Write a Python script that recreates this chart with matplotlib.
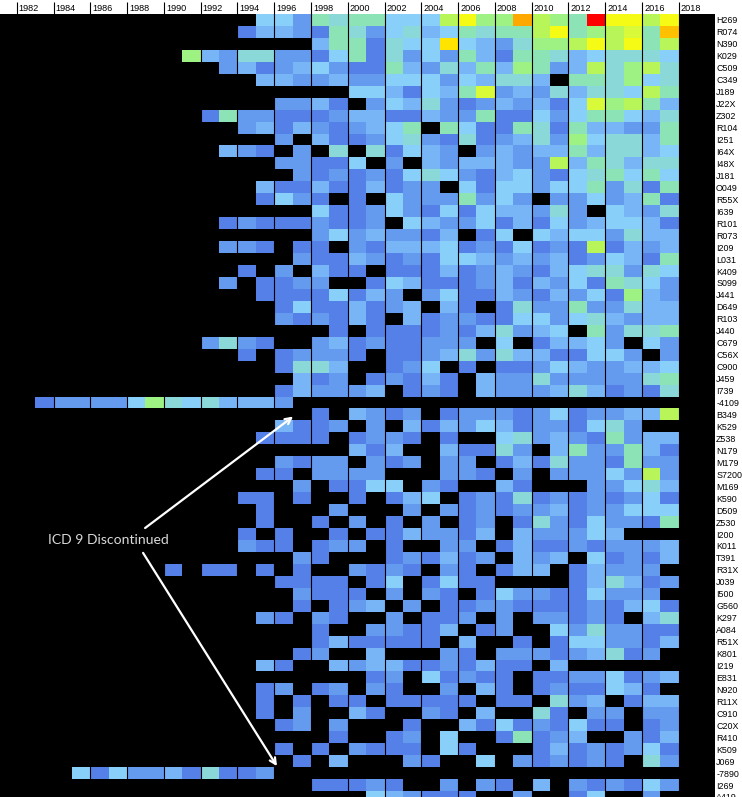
import numpy as np
import matplotlib
matplotlib.use("Agg")
import matplotlib.pyplot as plt
from matplotlib.colors import ListedColormap
from matplotlib.transforms import ScaledTranslation

FIRST_YEAR = 1982
LAST_YEAR = 2018

row_labels = [
    "H269", "R074", "N390", "K029", "C509", "C349", "J189", "J22X", "Z302", "R104", "I251",
    "I64X", "I48X", "J181", "O049", "R55X", "I639", "R101", "R073", "I209", "L031", "K409",
    "S099", "J441", "D649", "R103", "J440", "C679", "C56X", "C900", "J459", "I739", "-4109",
    "B349", "K529", "Z538", "N179", "M179", "S7200", "M169", "K590", "D509", "Z530", "I200",
    "K011", "T391", "R31X", "J039", "I500", "G560", "K297", "A084", "R51X", "K801", "I219",
    "E831", "N920", "R11X", "C910", "C20X", "R410", "K509", "J069", "-7890", "I269", "A419",
]

# one char per year 1982-2017, hex colour level, "." = no data
# groups: 1982-93, 1994-99, 2000-05, 2006-11, 2012-17
levels_top = [
    "............ .44265 664448 a77d87 6eaa8a",
    "............ 133216 524534 65668a 67896c",
    "............ ....36 61544b 432577 8a8a68",
    ".........732 552214 615242 631665 345554",
    "...........2 312342 116325 363762 385785",
    "............ .33223 224442 43553. 665745",
    "............ ...... 443143 692325 355486",
    "............ ..2231 .24352 123231 497863",
    "..........16 221112 331132 261142 466435",
    "............ 231321 2346.6 411651 633226",
    "............ ..2.31 124521 512352 745536",
    "...........3 21.2.5 .51432 .23233 635534",
    "............ ..2211 4.2.32 333228 365355",
    "............ ...212 121454 213421 456464",
    "............ .31131 13122. 414424 462516",
    "............ .1421. 1.4222 6242.2 242361",
]
levels_upper = [
    "............ ....41 124214 143325 2.4325",
    "...........1 211121 12.432 241314 234431",
    "............ ....24 232213 .14.43 442533",
    "...........2 21.11. 213334 121412 181323",
    "............ ...211 321214 432323 124316",
    "............ 1.2.31 1.1113 123213 455254",
    "...........2 .1122. .14311 123132 416542",
    "............ .11114 132.24 113213 241732",
    "............ ..1411 3123.3 1.1522 622533",
    "............ ..2121 31.312 211442 453233",
    "............ .....1 .11112 135234 .62556",
    "..........25 21..23 121122 2.4.13 342.42",
    "............ 1.1222 1.1123 525331 1442.2",
    "............ ..1553 ..124. 1.1124 322334",
    "............ ...312 .12131 .32252 222256",
    "............ ..1322 23.121 .32223 531215",
    ".12222475453 332... ...... ...... ......",
]
levels_lower = [
    "............ ....1. 3212.1 222124 122338",
    "............ ..3112 .2.313 243122 1452..",
    "............ .1111. 1221.1 ..4523 216233",
    "............ ...... 313..3 1152.3 622631",
    "............ ..2122 .212.2 2.1315 221622",
    "............ .11.22 22...2 21.2.2 224282",
    "............ ...2.1 144.21 ..31.. .22453",
    "............ 11.1.. 1.134. 121512 121241",
    "............ .1...2 ...2.2 121223 122444",
    "............ .1..1. 2.1.2. 12.152 142216",
    "............ 1.1..1 .11322 13.322 243...",
    "............ 211.12 2.1..2 2.1311 212223",
    "............ ...21. ..1213 12.323 .41213",
    "........1.11 .1.1.. 2121.2 1.133. 13222.",
    "............ ..1111 .14.14 11.... 135312",
    "............ ...211 1.2.21 .14221 14222.",
]
levels_bottom = [
    "............ ...1.1 23.2.1 122111 121341",
    "............ .21.21 ..2.11 2.2.22 121.35",
    "............ ....1. .22113 .12..4 252211",
    "............ ....13 11111. 3..1.1 442213",
    "............ ...12. .3...2 1.2221 23512.",
    "............ .31..3 233112 1311.3 ......",
    "............ ...... .12.41 211.11 224123",
    "............ .12.12 .21..2 .31.12 11431.",
    "............ .1.1.1 1.1111 1.11.5 23.133",
    "............ .1.2.. 31..21 .3..51 .22.22",
    "............ ..12.2 ...1.. 314121 411.12",
    "............ .....1 ..12.4 ..1612 3..213",
    "............ ..1.1. 2111.4 1...13 121241",
    "............ ...1.3 ...21. .4.212 121.52",
    "...414223151 12.... ...... ...... ......",
    "............ ....11 121..2 .21.3. 212142",
    "............ ...... .43211 1..2.. 14..2.",
]

colours = [
    "#5580E8", "#649BEE", "#78B5F6", "#88CFFA", "#8AD8D8", "#8CE3B5", "#9DF283",
    "#B8F558", "#D8FA38", "#F5FB14", "#FFE400", "#FFC000", "#FFA800", "#FF0000",
]


def parse_row(text):
    return [np.nan if c == "." else int(c, 16) for c in text.replace(" ", "")]


rows = levels_top + levels_upper + levels_lower + levels_bottom
values = np.array([parse_row(r) for r in rows], dtype=float)
years = np.arange(FIRST_YEAR, LAST_YEAR + 1)
even_years = years[::2]

fig = plt.figure(figsize=(7.42, 7.97), dpi=100, facecolor="white")
ax = fig.add_axes([0, 0, 715 / 742, 783 / 797], facecolor="black")

cmap = ListedColormap(colours)
cmap.set_bad("black")
ax.pcolormesh(years, np.arange(len(row_labels) + 1), np.ma.masked_invalid(values),
              cmap=cmap, vmin=0.5, vmax=14.5, antialiased=False, linewidth=0)

ax.set_xlim(1981.09, 2019.97)
ax.set_ylim(65.25, 0)
for s in ax.spines.values():
    s.set_visible(False)

# year ticks along the top, label sits right of the tick inside the white strip
ax.set_xticks(even_years)
ax.set_xticklabels([str(y) for y in even_years], family="Liberation Sans",
                   fontsize=6.6, color="black", ha="left")
ax.tick_params(axis="x", top=True, labeltop=True, bottom=False, labelbottom=False,
               length=8.6, width=0.8, color="black", pad=-8.2)
shift = ScaledTranslation(1.5 / 72, 0, fig.dpi_scale_trans)
for lab in ax.get_xticklabels():
    lab.set_transform(lab.get_transform() + shift)
ax.grid(axis="x", color="black", linewidth=0.8)
ax.set_axisbelow(False)

ax.set_yticks(np.arange(len(row_labels)) + 0.5)
ax.set_yticklabels(row_labels, family="Liberation Sans", fontsize=6.4)
ax.tick_params(axis="y", left=False, labelleft=False, right=True, labelright=True, length=0, pad=0.8)

ax.text(1987.0, 44.0, "ICD 9 Discontinued", color="#D9D9D9", family="Lato", fontsize=10.1,
        ha="center", va="center")
arrow = dict(arrowstyle="->", color="white", lw=1.6, shrinkA=0, shrinkB=0, mutation_scale=11)
ax.annotate("", xy=(1997.03, 33.67), xytext=(1988.98, 43.0), arrowprops=arrow)
ax.annotate("", xy=(1996.15, 62.92), xytext=(1988.87, 45.08), arrowprops=arrow)

fig.savefig("out.png", dpi=100, facecolor="white")
